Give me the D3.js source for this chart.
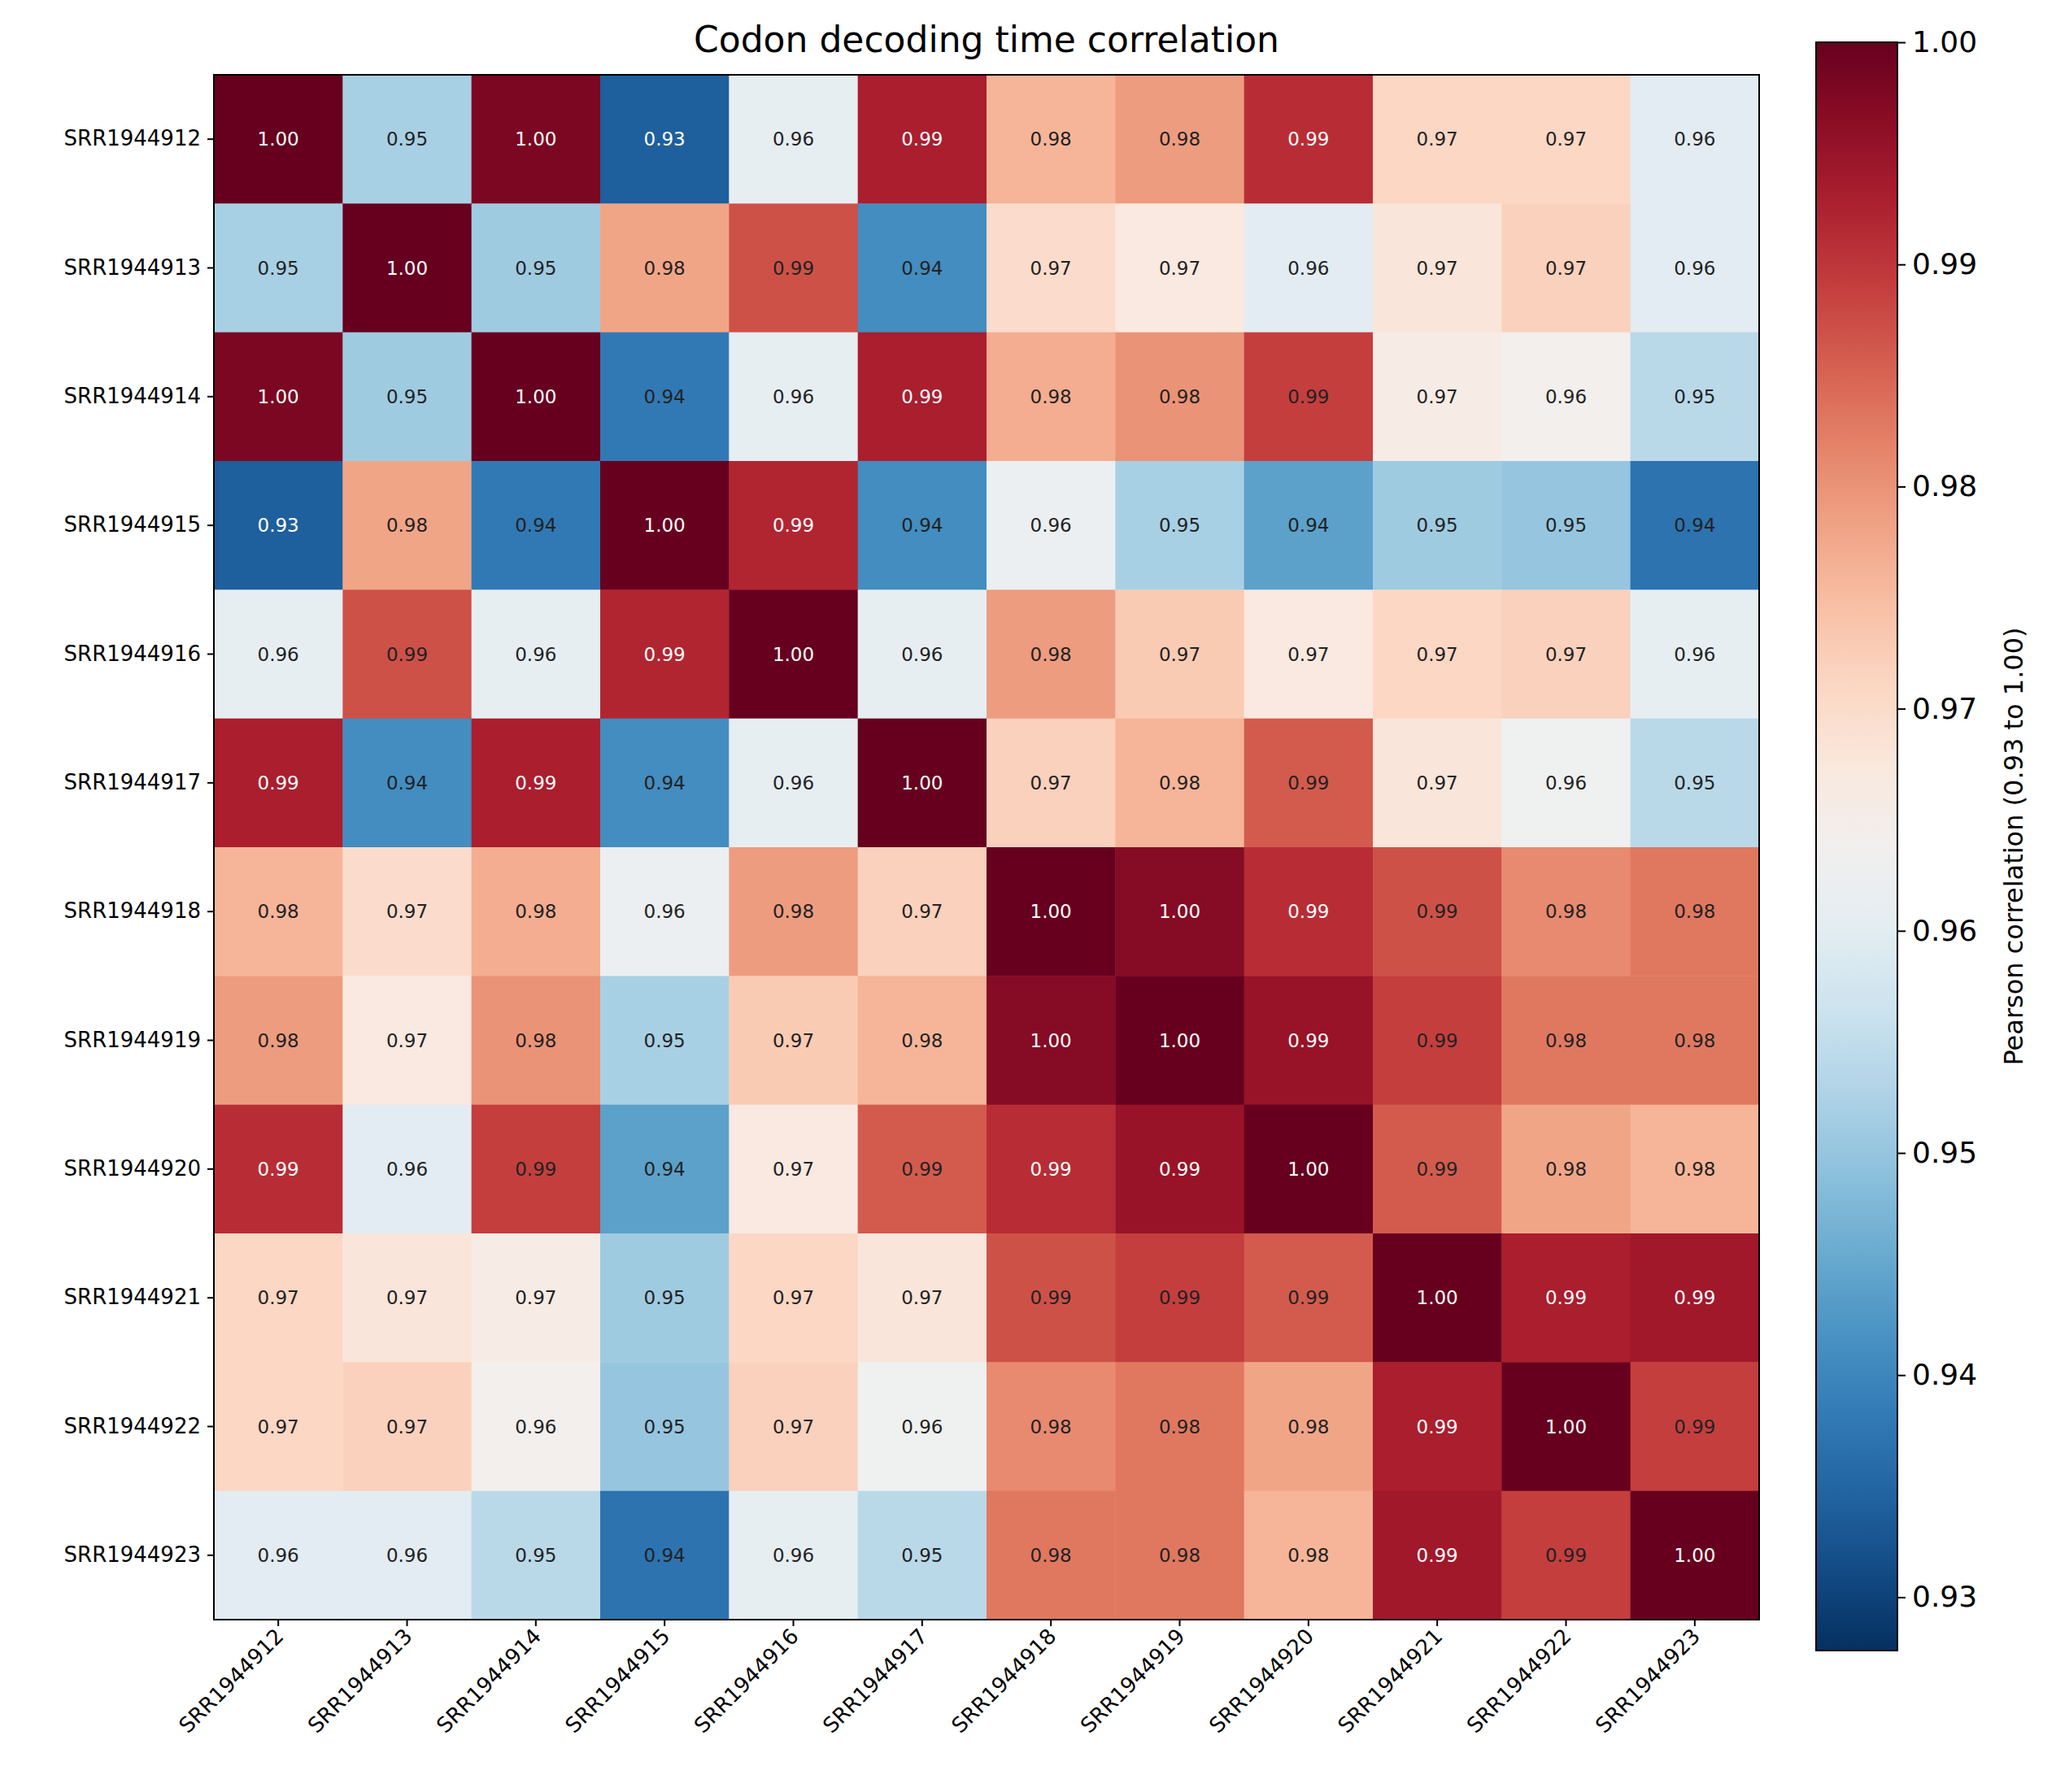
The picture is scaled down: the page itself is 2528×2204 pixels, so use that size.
<!DOCTYPE html><html><head><meta charset="utf-8"><script src="https://cdn.jsdelivr.net/npm/d3@7"></script>
<style>body{margin:0;background:#fff}text{font-family:"DejaVu Sans",sans-serif}</style></head><body>
<svg id="c" width="2528" height="2204"></svg>
<script>
const samples=["SRR1944912","SRR1944913","SRR1944914","SRR1944915","SRR1944916","SRR1944917","SRR1944918","SRR1944919","SRR1944920","SRR1944921","SRR1944922","SRR1944923"];
const corr=[
[1.000,0.952,0.998,0.934,0.961,0.993,0.976,0.979,0.991,0.971,0.971,0.960],
[0.952,1.000,0.951,0.978,0.987,0.941,0.970,0.967,0.960,0.968,0.972,0.960],
[0.998,0.951,1.000,0.938,0.961,0.993,0.977,0.980,0.989,0.966,0.964,0.954],
[0.934,0.978,0.938,1.000,0.992,0.941,0.962,0.952,0.944,0.951,0.950,0.937],
[0.961,0.987,0.961,0.992,1.000,0.961,0.979,0.973,0.967,0.971,0.972,0.961],
[0.993,0.941,0.993,0.941,0.961,1.000,0.972,0.976,0.986,0.968,0.963,0.954],
[0.976,0.970,0.977,0.962,0.979,0.972,1.000,0.997,0.991,0.987,0.981,0.983],
[0.979,0.967,0.980,0.952,0.973,0.976,0.997,1.000,0.995,0.989,0.983,0.983],
[0.991,0.960,0.989,0.944,0.967,0.986,0.991,0.995,1.000,0.986,0.978,0.976],
[0.971,0.968,0.966,0.951,0.971,0.968,0.987,0.989,0.986,1.000,0.993,0.994],
[0.971,0.972,0.964,0.950,0.972,0.963,0.981,0.983,0.978,0.993,1.000,0.989],
[0.960,0.960,0.954,0.937,0.961,0.954,0.983,0.983,0.976,0.994,0.989,1.000]];
const cbTicks=[0.93,0.94,0.95,0.96,0.97,0.98,0.99,1.00];
const vmin=0.9276,vmax=1.0;
const svg=d3.select("#c");
const L=263,T=92,S=1900;
const x=d3.scaleBand().domain(samples).range([L,L+S]);
const y=d3.scaleBand().domain(samples).range([T,T+S]);
const col=v=>d3.interpolateRdBu(1-(v-vmin)/(vmax-vmin));
const cells=[];corr.forEach((r,i)=>r.forEach((v,j)=>cells.push({i,j,v})));
svg.selectAll("rect.c").data(cells).join("rect").attr("x",d=>x(samples[d.j])).attr("y",d=>y(samples[d.i]))
 .attr("width",x.bandwidth()+0.5).attr("height",y.bandwidth()+0.5).attr("fill",d=>col(d.v));
svg.selectAll("text.v").data(cells).join("text").attr("x",d=>x(samples[d.j])+x.bandwidth()/2).attr("y",d=>y(samples[d.i])+y.bandwidth()/2)
 .attr("text-anchor","middle").attr("dominant-baseline","central").attr("font-size",23)
 .attr("fill",d=>{const n=(d.v-vmin)/(vmax-vmin);return (n>0.85||n<0.12)?"#fff":"#222";}).text(d=>d.v.toFixed(2));
svg.append("rect").attr("x",L).attr("y",T).attr("width",S).attr("height",S).attr("fill","none").attr("stroke","#000").attr("stroke-width",2);
const ya=svg.append("g").attr("transform",`translate(${L},0)`).call(d3.axisLeft(y).tickSize(8).tickPadding(8));
ya.select(".domain").remove();ya.selectAll("text").attr("font-size",26).attr("fill","#000");ya.selectAll("line").attr("stroke-width",2);
const xa=svg.append("g").attr("transform",`translate(0,${T+S})`).call(d3.axisBottom(x).tickSize(8));
xa.select(".domain").remove();xa.selectAll("line").attr("stroke-width",2);
xa.selectAll("text").attr("font-size",26).attr("fill","#000").attr("text-anchor","end").attr("dy",0).attr("y",0)
 .attr("transform","translate(8,22) rotate(-45)");
svg.append("text").attr("x",L+S/2).attr("y",64).attr("text-anchor","middle").attr("font-size",44).text("Codon decoding time correlation");
// colorbar
const cx=2233,cw=100,ct=52,cb=2030;
const cy=d3.scaleLinear().domain([vmin,vmax]).range([cb,ct]);
const defs=svg.append("defs");const g=defs.append("linearGradient").attr("id","g").attr("x1",0).attr("y1",1).attr("x2",0).attr("y2",0);
d3.range(0,1.001,0.05).forEach(t=>g.append("stop").attr("offset",t).attr("stop-color",d3.interpolateRdBu(1-t)));
svg.append("rect").attr("x",cx).attr("y",ct).attr("width",cw).attr("height",cb-ct).attr("fill","url(#g)").attr("stroke","#000").attr("stroke-width",2);
const ca=svg.append("g").attr("transform",`translate(${cx+cw},0)`).call(d3.axisRight(cy).tickValues(cbTicks).tickFormat(d3.format(".2f")).tickSize(10).tickPadding(8));
ca.select(".domain").remove();ca.selectAll("text").attr("font-size",36).attr("fill","#000");ca.selectAll("line").attr("stroke-width",2);
svg.append("text").attr("transform",`translate(2487,${(ct+cb)/2}) rotate(-90)`).attr("text-anchor","middle").attr("font-size",32).text("Pearson correlation (0.93 to 1.00)");
</script></body></html>
